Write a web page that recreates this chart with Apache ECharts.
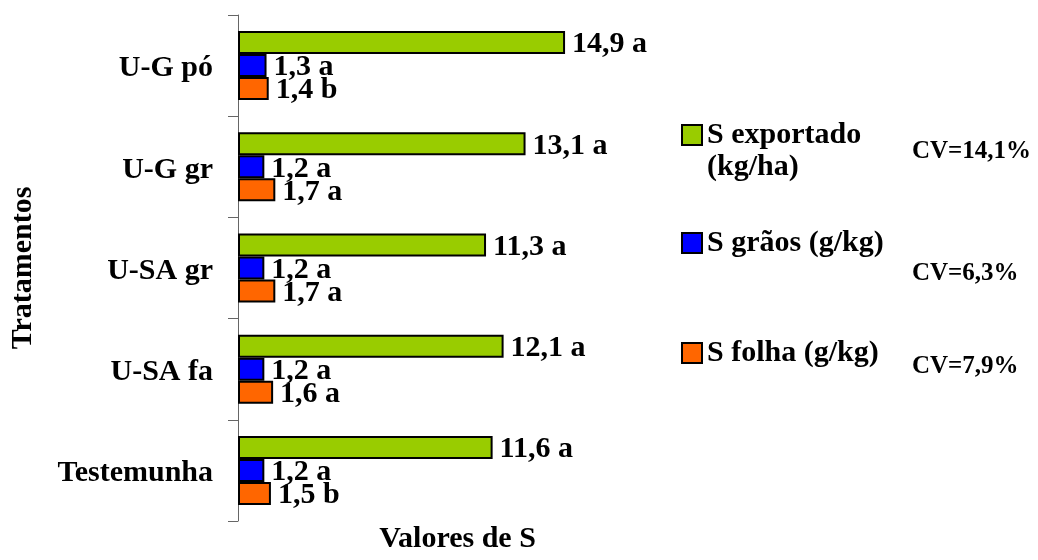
<!DOCTYPE html>
<html>
<head>
<meta charset="utf-8">
<script src="https://cdn.jsdelivr.net/npm/echarts@6/dist/echarts.min.js"></script>
<style>
html,body{margin:0;padding:0;background:#fff;}
#chart{width:1038px;height:560px;}
</style>
</head>
<body>
<div id="chart"></div>
<script>
var categories = ['U-G pó', 'U-G gr', 'U-SA gr', 'U-SA fa', 'Testemunha'];
var seriesNames = ['S exportado (kg/ha)', 'S grãos (g/kg)', 'S folha (g/kg)'];
var exportado = [14.9, 13.1, 11.3, 12.1, 11.6];
var exportadoLetters = ['a', 'a', 'a', 'a', 'a'];
var graos = [1.3, 1.2, 1.2, 1.2, 1.2];
var graosLetters = ['a', 'a', 'a', 'a', 'a'];
var folha = [1.4, 1.7, 1.7, 1.6, 1.5];
var folhaLetters = ['b', 'a', 'a', 'a', 'b'];
var cvTexts = ['CV=14,1%', 'CV=6,3%', 'CV=7,9%'];
var colors = ['#99CC00', '#0000FF', '#FF6600'];

var FONT = "'Liberation Serif', 'Times New Roman', serif";

function fmt(letters) {
  return function (p) {
    return p.value.toFixed(1).replace('.', ',') + ' ' + letters[p.dataIndex];
  };
}

function makeSeries(name, data, letters, color) {
  return {
    name: name,
    type: 'bar',
    data: data,
    barWidth: 23,
    barGap: '0%',
    itemStyle: { color: color, borderColor: '#000', borderWidth: 2 },
    label: {
      show: true,
      position: 'right',
      distance: 7,
      offset: [0, 2],
      formatter: fmt(letters),
      fontFamily: FONT,
      fontWeight: 'bold',
      fontSize: 30,
      color: '#000'
    },
    animation: false
  };
}

function legendAt(name, top, fmtFn) {
  return {
    data: [name],
    left: 681,
    top: top,
    orient: 'vertical',
    padding: 0,
    itemWidth: 20,
    itemHeight: 20,
    icon: 'rect',
    selectedMode: false,
    formatter: fmtFn,
    textStyle: { fontFamily: FONT, fontWeight: 'bold', fontSize: 30, color: '#000' }
  };
}

var chart = echarts.init(document.getElementById('chart'), null, { renderer: 'canvas' });
chart.setOption({
  backgroundColor: '#fff',
  animation: false,
  grid: { left: 238, right: 361, top: 15, bottom: 39 },
  xAxis: {
    type: 'value',
    min: 0,
    max: 20,
    axisLine: { show: false },
    axisTick: { show: false },
    axisLabel: { show: false },
    splitLine: { show: false },
    name: 'Valores de S',
    nameLocation: 'middle',
    nameGap: 3,
    nameTextStyle: { fontFamily: FONT, fontWeight: 'bold', fontSize: 30, color: '#000', verticalAlign: 'top' }
  },
  yAxis: {
    type: 'category',
    inverse: true,
    data: categories,
    axisLine: { show: true, lineStyle: { color: '#666', width: 1 } },
    axisTick: { show: true, length: 10, lineStyle: { color: '#666', width: 1 } },
    axisLabel: {
      margin: 25,
      formatter: function (v) { return '{c|' + v + '}'; },
      rich: { c: { padding: [6, 0, 0, 0], fontFamily: FONT, fontWeight: 'bold', fontSize: 30, color: '#000' } },
      fontFamily: FONT, fontWeight: 'bold', fontSize: 30, color: '#000'
    },
    splitLine: { show: false },
    name: 'Tratamentos',
    nameLocation: 'middle',
    nameGap: 200,
    nameRotate: 90,
    nameTextStyle: { fontFamily: FONT, fontWeight: 'bold', fontSize: 30, color: '#000' }
  },
  legend: [
    legendAt(seriesNames[0], 120, function () { return 'S exportado'; }),
    legendAt(seriesNames[1], 228),
    legendAt(seriesNames[2], 338)
  ],
  graphic: [
    { type: 'text', left: 707, top: 152, style: { text: '(kg/ha)', font: "bold 30px " + FONT, fill: '#000' } },
    { type: 'text', left: 912, top: 139, style: { text: cvTexts[0], font: "bold 25px " + FONT, fill: '#000' } },
    { type: 'text', left: 912, top: 261, style: { text: cvTexts[1], font: "bold 25px " + FONT, fill: '#000' } },
    { type: 'text', left: 912, top: 354, style: { text: cvTexts[2], font: "bold 25px " + FONT, fill: '#000' } }
  ],
  series: [
    makeSeries(seriesNames[0], exportado, exportadoLetters, colors[0]),
    makeSeries(seriesNames[1], graos, graosLetters, colors[1]),
    makeSeries(seriesNames[2], folha, folhaLetters, colors[2])
  ]
});
</script>
</body>
</html>
